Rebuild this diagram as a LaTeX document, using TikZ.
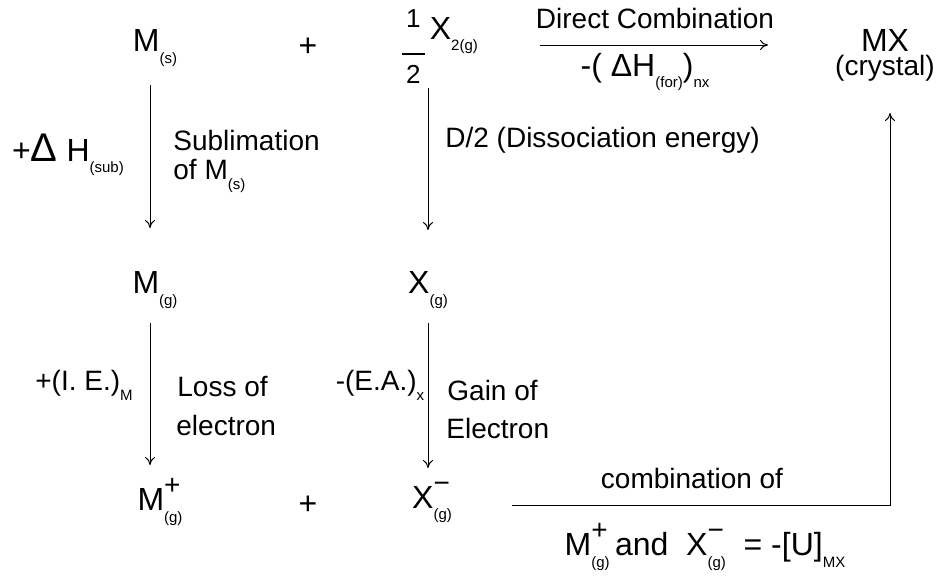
\documentclass[tikz,border=0pt]{standalone}
\usepackage{fontspec}
\setmainfont{Liberation Sans}
\usetikzlibrary{arrows.meta}
\begin{document}
\begin{tikzpicture}[x=0.5pt,y=-0.5pt,
  big/.style={font=\fontsize{16}{18}\selectfont,inner sep=0pt},
  lab/.style={font=\fontsize{14}{16}\selectfont,inner sep=0pt},
  arr/.style={-{To[length=4pt,width=5pt]},line width=0.5pt}]
\useasboundingbox (0,0) rectangle (942,578);
\newcommand{\sbs}[1]{\raisebox{-0.35em}{\fontsize{7.5}{8}\selectfont #1}}
\newcommand{\ion}[2]{\rlap{\raisebox{0.5em}{\fontsize{14}{14}\selectfont #1}}\sbs{#2}}
\newcommand{\half}{\raisebox{-0.55em}{\begin{tabular}{@{}c@{}}\fontsize{13}{13}\selectfont 1\\[-4pt]\rule{0.7em}{0.9pt}\\[-4pt]\fontsize{13}{13}\selectfont 2\end{tabular}}}
\node[big] (ms) at (155,48) {M\sbs{(s)}};
\node[big] (p1) at (308,47) {+};
\node[big] (x2) at (440,48) {\half\,X\sbs{2(g)}};
\node[big] (mx) at (885,40) {MX};
\node[lab] (cr) at (885,68) {(crystal)};
\coordinate (t1) at (540,45); \coordinate (t2) at (768,45);
\draw[arr] (t1) -- (t2);
\node[lab] (dc) at (655,18) {Direct Combination};
\node[big] (hf) at (645,72) {-( ΔH\sbs{(for)})\sbs{nx}};
\coordinate (a1) at (150,85); \coordinate (a2) at (150,228);
\draw[arr] (a1) -- (a2);
\node[big] (hs) at (68,155) {+{\fontsize{20}{20}\selectfont Δ} H\sbs{(sub)}};
\node[lab,anchor=west] (sb) at (173,140) {Sublimation};
\node[lab,anchor=west] (om) at (173,176) {of M\sbs{(s)}};
\coordinate (b1) at (428,88); \coordinate (b2) at (428,230);
\draw[arr] (b1) -- (b2);
\node[lab,anchor=west] (dd) at (445,140) {D/2 (Dissociation energy)};
\node[big] (mg) at (155,290) {M\sbs{(g)}};
\node[big] (xg) at (428,290) {X\sbs{(g)}};
\coordinate (c1) at (150,323); \coordinate (c2) at (150,465);
\draw[arr] (c1) -- (c2);
\node[lab] (ie) at (84,385) {+(I. E.)\sbs{M}};
\node[lab,anchor=west] (lo) at (177,387) {Loss of};
\node[lab,anchor=west] (el) at (176,425) {electron};
\coordinate (d1) at (428,323); \coordinate (d2) at (428,468);
\draw[arr] (d1) -- (d2);
\node[lab] (ea) at (380,385) {-(E.A.)\sbs{x}};
\node[lab,anchor=west] (ga) at (447,390) {Gain of};
\node[lab,anchor=west] (ee) at (446,428) {Electron};
\node[big] (mp) at (160,502) {M\ion{+}{(g)}};
\node[big] (p2) at (308,505) {+};
\node[big] (xm) at (432,502) {X\ion{\textminus}{(g)}};
\coordinate (e1) at (512,505); \coordinate (e2) at (890,505); \coordinate (e3) at (890,113);
\draw[arr] (e1) -- (e2) -- (e3);
\node[lab] (co) at (692,478) {combination of};
\node[big] (uu) at (705,547) {M\ion{+}{(g)}\,and\ \ X\ion{\textminus}{(g)}\ \ = -[U]\sbs{MX}};
\end{tikzpicture}
\end{document}
